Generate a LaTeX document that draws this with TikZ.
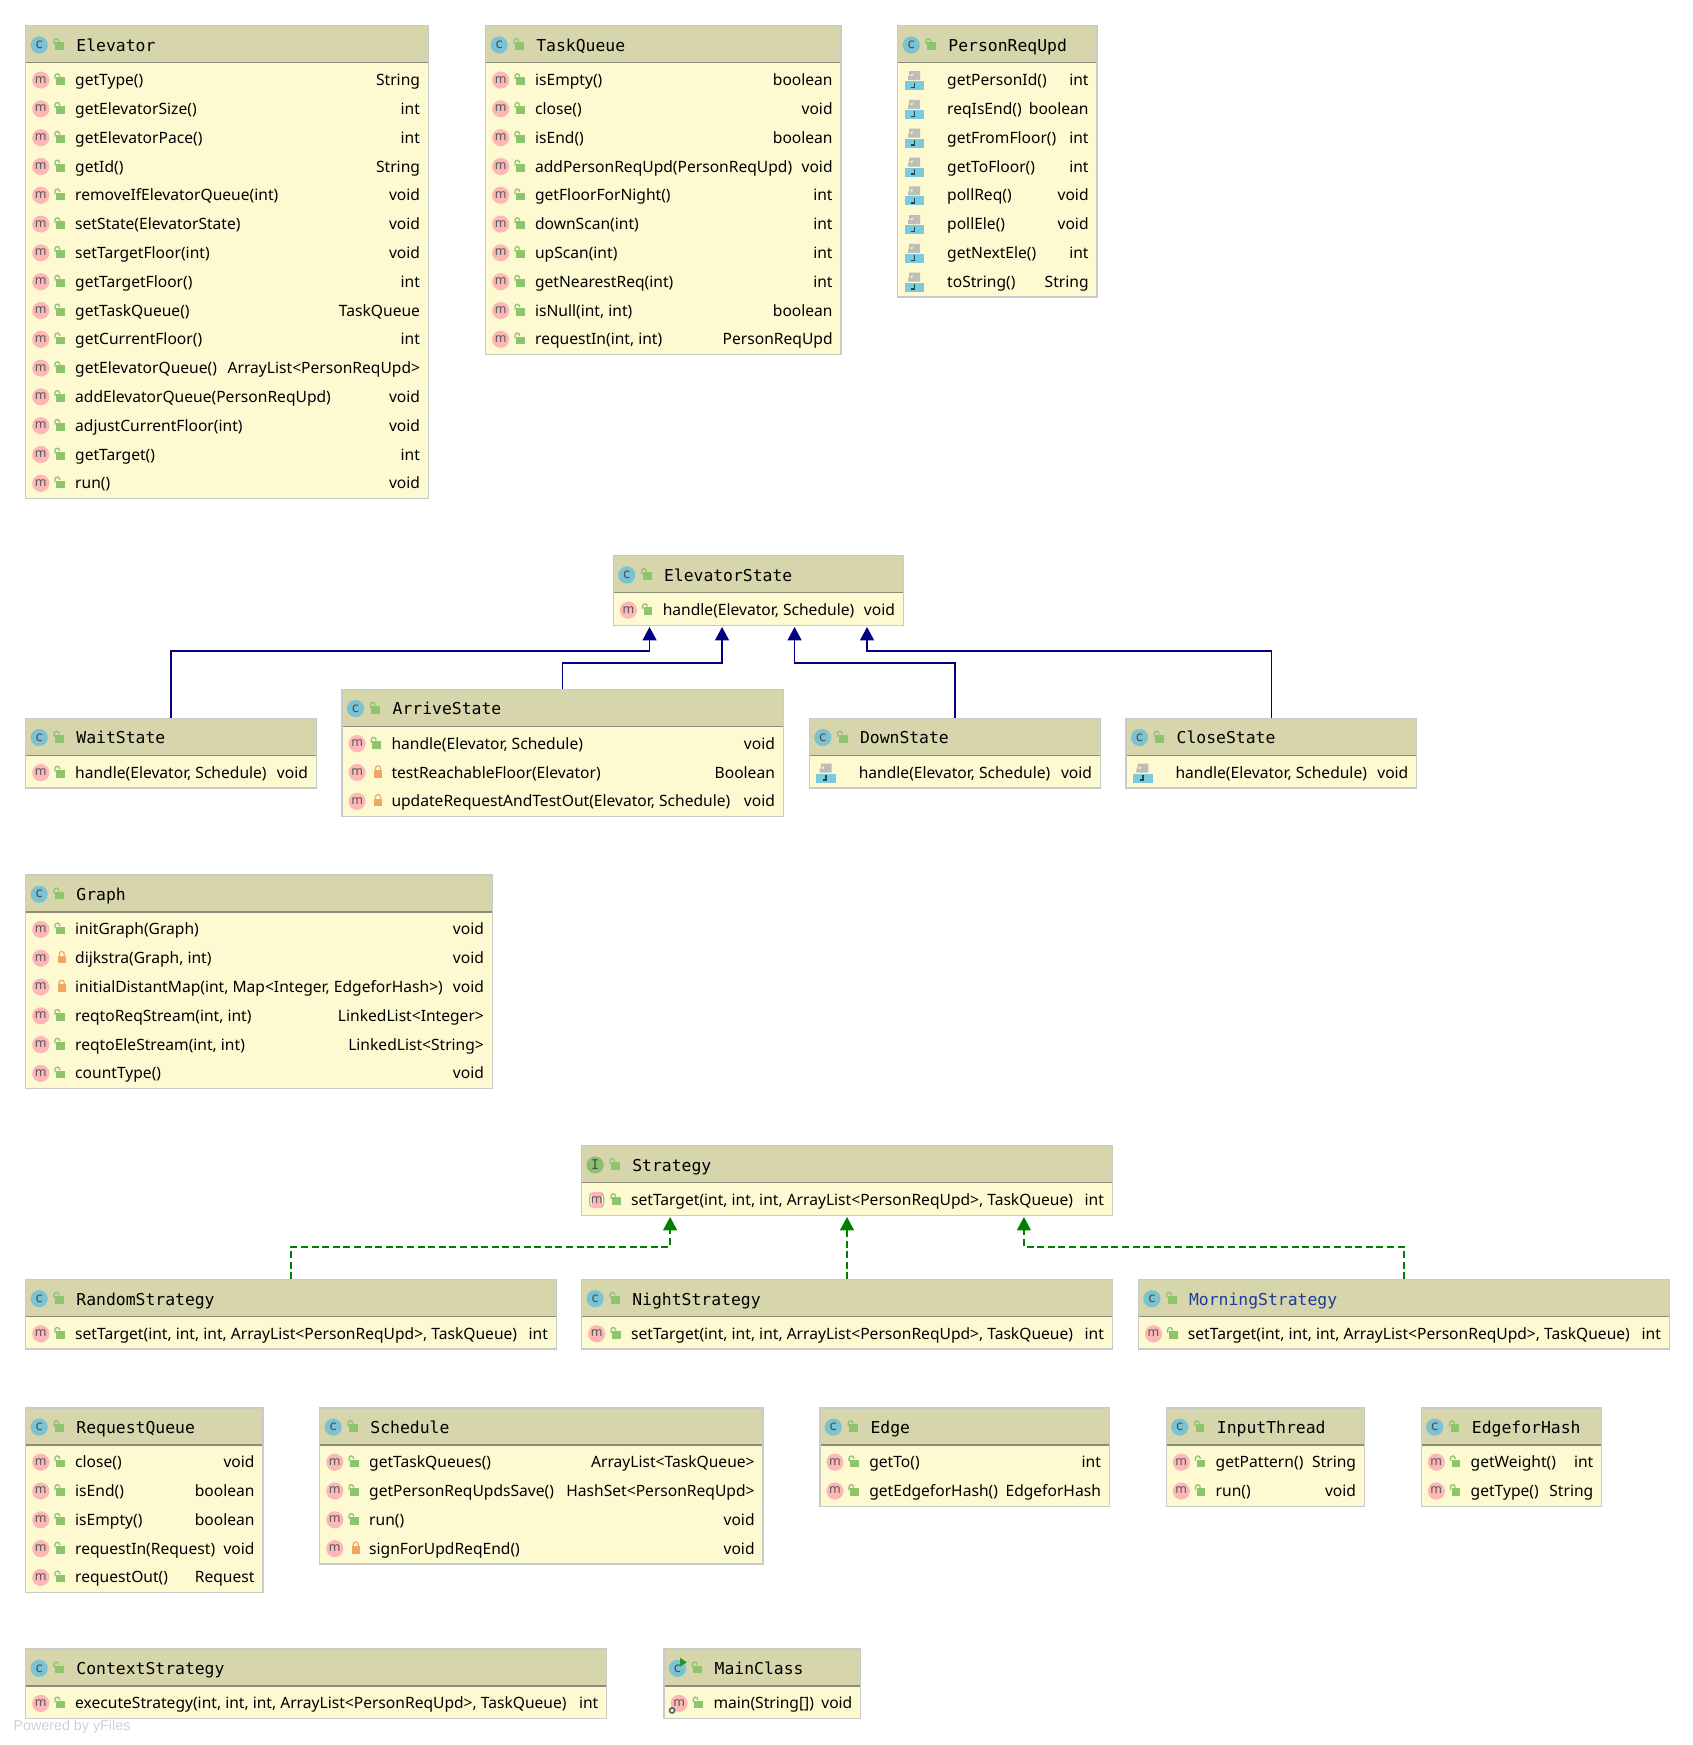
\documentclass[tikz,border=0pt]{standalone}
\usepackage{fontspec}
\setmainfont{Noto Sans}
\newfontfamily\titlefont{DejaVu Sans Mono}
\newfontfamily\yfilesfont{Liberation Sans}
\usetikzlibrary{arrows.meta,calc}
\definecolor{headfill}{HTML}{D7D5AB}
\definecolor{bodyfill}{HTML}{FDFAD1}
\definecolor{frameline}{HTML}{CBCBC6}
\definecolor{divline}{HTML}{8C8C7A}
\definecolor{ciconfill}{HTML}{7BC3D3}
\definecolor{iiconfill}{HTML}{8DBF70}
\definecolor{miconfill}{HTML}{FDB7B7}
\definecolor{lockgreen}{HTML}{8EC46C}
\definecolor{lockred}{HTML}{F2A663}
\definecolor{jblue}{HTML}{7ACBDE}
\definecolor{jgray}{HTML}{BDBEB8}
\definecolor{extline}{HTML}{000080}
\definecolor{implline}{HTML}{008000}
\definecolor{mornblue}{HTML}{1A3C9C}
\tikzset{
  classbox/.style={rectangle,anchor=north west,fill=bodyfill,inner sep=0pt,outer sep=0pt},
  boxframe/.style={draw=frameline,line width=1.4pt},
  titletext/.style={anchor=base west,inner sep=0pt,font=\titlefont\fontsize{16.4}{18}\selectfont},
  membertext/.style={anchor=base west,inner sep=0pt,font=\fontsize{15.6}{18}\selectfont},
  typetext/.style={anchor=base east,inner sep=0pt,font=\fontsize{15.6}{18}\selectfont},
  iconletter/.style={inner sep=0pt,text=black!65,font=\fontsize{12.5}{13}\selectfont},
  ciconletter/.style={inner sep=0pt,text=black!70,font=\titlefont\fontsize{13.5}{14}\selectfont},
  extarrow/.style={draw=extline,line width=1.3pt,-{Triangle[length=13.4pt,width=14pt]}},
  implarrow/.style={draw=implline,line width=1.3pt,dash pattern=on 7pt off 3.6pt,-{Triangle[length=13.4pt,width=14pt]}},
}
\newcounter{iconctr}
% ---- locks, x at left of body
\newcommand{\lockpub}[2]{%
  \fill[lockgreen] (#1,#2-2.7) rectangle ++(8.8,7.7);
  \draw[lockgreen,line width=1.3pt] (#1+3.6,#2-3.4) -- (#1+3.6,#2-4) arc[start angle=0,end angle=-180,radius=2.3] -- ++(0,3);}
\newcommand{\lockpri}[2]{%
  \fill[lockred] (#1+1.9,#2-2.7) rectangle ++(7.6,7.7);
  \draw[lockred,line width=1.2pt] (#1+3.2,#2-2.7) -- ++(0,-1.6) arc[start angle=180,end angle=360,radius=2.5] -- ++(0,1.6);}
\newcommand{\locknone}[2]{}
% ---- class icons
\newcommand{\titleiconc}[2]{%
  \fill[ciconfill] (#1,#2) circle[radius=8.6];
  \stepcounter{iconctr}\node[ciconletter] (ic\theiconctr) at (#1,#2) {c};}
\newcommand{\titleiconi}[2]{%
  \fill[iiconfill] (#1,#2) circle[radius=8.6];
  \stepcounter{iconctr}\node[ciconletter] (ic\theiconctr) at (#1,#2) {I};}
\newcommand{\titleiconr}[2]{%
  \fill[ciconfill] (#1,#2) circle[radius=8.6];
  \stepcounter{iconctr}\node[ciconletter] (ic\theiconctr) at (#1,#2) {c};
  \fill[implline!70!lockgreen] (#1+2.6,#2-10.5) -- (#1+9.4,#2-6) -- (#1+2.6,#2-1.8) -- cycle;}
% ---- member icons
\newcommand{\rowiconm}[2]{%
  \fill[miconfill] (#1,#2) circle[radius=8.6];
  \stepcounter{iconctr}\node[iconletter] (ic\theiconctr) at (#1,#2-0.5) {m};}
\newcommand{\rowicona}[2]{%
  \fill[miconfill] (#1-5,#2-8) rectangle (#1+5,#2+8);
  \draw[black!30,line width=1.2pt] (#1-5.4,#2-7) arc[start angle=210,end angle=150,radius=14];
  \draw[black!30,line width=1.2pt] (#1+5.4,#2-7) arc[start angle=-30,end angle=30,radius=14];
  \stepcounter{iconctr}\node[iconletter] (ic\theiconctr) at (#1,#2-0.5) {m};}
\newcommand{\rowiconr}[2]{%
  \fill[miconfill] (#1,#2) circle[radius=8.6];
  \stepcounter{iconctr}\node[iconletter] (ic\theiconctr) at (#1,#2-0.5) {m};
  \draw[black!45!ciconfill,line width=1.6pt] (#1-7,#2+7) circle[radius=2.6];}
\newcommand{\rowiconj}[2]{%
  \fill[jgray] (#1-3.6,#2-9) -- (#1+7.2,#2-9) -- (#1+7.2,#2) -- (#1-4.8,#2) -- (#1-4.8,#2-4) -- (#1-0.2,#2-4) -- (#1-0.2,#2-7) -- (#1-3.6,#2-3.6) -- cycle;
  \fill[jblue] (#1-8,#2+1) rectangle (#1+11.5,#2+10);
  \draw[black!65!jblue,line width=1.5pt] (#1+1.8,#2+2.5) -- (#1+1.8,#2+7.5) -- (#1-1.6,#2+7.5);}
% ---- class box
\newcommand{\ClassBox}[8]{%
  \pgfmathsetmacro{\cL}{#2}\pgfmathsetmacro{\cR}{#3}\pgfmathsetmacro{\cT}{#4}%
  \pgfmathsetmacro{\cW}{#3-#2}\pgfmathsetmacro{\cH}{40.8+28.8*#5}%
  \def\cName{#1}\def\rowi{0}%
  \node[classbox,minimum width=\cW pt,minimum height=\cH pt] (#1) at (\cL,\cT) {};
  \fill[headfill] (#1.north west) rectangle ($(#1.north east)+(0,37)$);
  \draw[divline,line width=1.4pt] ($(#1.north west)+(0,37)$) -- ($(#1.north east)+(0,37)$);
  \draw[boxframe] (#1.north west) rectangle (#1.south east);
  \csname titleicon#7\endcsname{\cL+13.5}{\cT+19.3}
  \lockpub{\cL+29.4}{\cT+19.3}
  \node[titletext,text=#8] (#1-title) at (\cL+50.5,\cT+25.6) {#6};}
\newcommand{\Row}[4]{%
  \pgfmathsetmacro{\cY}{\cT+54.4+28.8*\rowi}%
  \csname rowicon#1\endcsname{\cL+15.1}{\cY}
  \csname lock#2\endcsname{\cL+30.3}{\cY}
  \node[membertext] (\cName-m\rowi) at (\cL+49.3,\cY+5.5) {#3};
  \node[typetext] (\cName-t\rowi) at (\cR-8.2,\cY+5.5) {#4};
  \pgfmathtruncatemacro{\rowi}{\rowi+1}}
\begin{document}
\begin{tikzpicture}[x=1pt,y=-1pt]
\useasboundingbox (0,0) rectangle (1693,1745);
\fill[white] (0,0) rectangle (1693,1745);

\ClassBox{elevator}{25.7}{428.4}{25.7}{15}{Elevator}{c}{black}
\Row{m}{pub}{getType()}{String}
\Row{m}{pub}{getElevatorSize()}{int}
\Row{m}{pub}{getElevatorPace()}{int}
\Row{m}{pub}{getId()}{String}
\Row{m}{pub}{removeIfElevatorQueue(int)}{void}
\Row{m}{pub}{setState(ElevatorState)}{void}
\Row{m}{pub}{setTargetFloor(int)}{void}
\Row{m}{pub}{getTargetFloor()}{int}
\Row{m}{pub}{getTaskQueue()}{TaskQueue}
\Row{m}{pub}{getCurrentFloor()}{int}
\Row{m}{pub}{getElevatorQueue()}{ArrayList<PersonReqUpd>}
\Row{m}{pub}{addElevatorQueue(PersonReqUpd)}{void}
\Row{m}{pub}{adjustCurrentFloor(int)}{void}
\Row{m}{pub}{getTarget()}{int}
\Row{m}{pub}{run()}{void}

\ClassBox{taskqueue}{485.6}{841}{25.7}{10}{TaskQueue}{c}{black}
\Row{m}{pub}{isEmpty()}{boolean}
\Row{m}{pub}{close()}{void}
\Row{m}{pub}{isEnd()}{boolean}
\Row{m}{pub}{addPersonReqUpd(PersonReqUpd)}{void}
\Row{m}{pub}{getFloorForNight()}{int}
\Row{m}{pub}{downScan(int)}{int}
\Row{m}{pub}{upScan(int)}{int}
\Row{m}{pub}{getNearestReq(int)}{int}
\Row{m}{pub}{isNull(int, int)}{boolean}
\Row{m}{pub}{requestIn(int, int)}{PersonReqUpd}

\ClassBox{personrequpd}{897.7}{1097}{25.7}{8}{PersonReqUpd}{c}{black}
\Row{j}{none}{getPersonId()}{int}
\Row{j}{none}{reqIsEnd()}{boolean}
\Row{j}{none}{getFromFloor()}{int}
\Row{j}{none}{getToFloor()}{int}
\Row{j}{none}{pollReq()}{void}
\Row{j}{none}{pollEle()}{void}
\Row{j}{none}{getNextEle()}{int}
\Row{j}{none}{toString()}{String}

\ClassBox{elevatorstate}{613.3}{903.3}{555.7}{1}{ElevatorState}{c}{black}
\Row{m}{pub}{handle(Elevator, Schedule)}{void}

\ClassBox{waitstate}{25.7}{316.3}{718.2}{1}{WaitState}{c}{black}
\Row{m}{pub}{handle(Elevator, Schedule)}{void}

\ClassBox{arrivestate}{342}{783.3}{689.3}{3}{ArriveState}{c}{black}
\Row{m}{pub}{handle(Elevator, Schedule)}{void}
\Row{m}{pri}{testReachableFloor(Elevator)}{Boolean}
\Row{m}{pri}{updateRequestAndTestOut(Elevator, Schedule)}{void}

\ClassBox{downstate}{809.3}{1100.4}{718.2}{1}{DownState}{c}{black}
\Row{j}{none}{handle(Elevator, Schedule)}{void}

\ClassBox{closestate}{1126}{1416.7}{718.2}{1}{CloseState}{c}{black}
\Row{j}{none}{handle(Elevator, Schedule)}{void}

\ClassBox{graph}{25.7}{492.3}{875}{6}{Graph}{c}{black}
\Row{m}{pub}{initGraph(Graph)}{void}
\Row{m}{pri}{dijkstra(Graph, int)}{void}
\Row{m}{pri}{initialDistantMap(int, Map<Integer, EdgeforHash>)}{void}
\Row{m}{pub}{reqtoReqStream(int, int)}{LinkedList<Integer>}
\Row{m}{pub}{reqtoEleStream(int, int)}{LinkedList<String>}
\Row{m}{pub}{countType()}{void}

\ClassBox{strategy}{581.6}{1112.4}{1145.7}{1}{Strategy}{i}{black}
\Row{a}{pub}{setTarget(int, int, int, ArrayList<PersonReqUpd>, TaskQueue)}{int}

\ClassBox{randomstrategy}{25.7}{556.4}{1279.4}{1}{RandomStrategy}{c}{black}
\Row{m}{pub}{setTarget(int, int, int, ArrayList<PersonReqUpd>, TaskQueue)}{int}

\ClassBox{nightstrategy}{581.6}{1112.4}{1279.4}{1}{NightStrategy}{c}{black}
\Row{m}{pub}{setTarget(int, int, int, ArrayList<PersonReqUpd>, TaskQueue)}{int}

\ClassBox{morningstrategy}{1138.4}{1669.4}{1279.4}{1}{MorningStrategy}{c}{mornblue}
\Row{m}{pub}{setTarget(int, int, int, ArrayList<PersonReqUpd>, TaskQueue)}{int}

\ClassBox{requestqueue}{25.7}{262.9}{1407.8}{5}{RequestQueue}{c}{black}
\Row{m}{pub}{close()}{void}
\Row{m}{pub}{isEnd()}{boolean}
\Row{m}{pub}{isEmpty()}{boolean}
\Row{m}{pub}{requestIn(Request)}{void}
\Row{m}{pub}{requestOut()}{Request}

\ClassBox{schedule}{319.7}{763}{1407.8}{4}{Schedule}{c}{black}
\Row{m}{pub}{getTaskQueues()}{ArrayList<TaskQueue>}
\Row{m}{pub}{getPersonReqUpdsSave()}{HashSet<PersonReqUpd>}
\Row{m}{pub}{run()}{void}
\Row{m}{pri}{signForUpdReqEnd()}{void}

\ClassBox{edge}{819.8}{1109.3}{1407.8}{2}{Edge}{c}{black}
\Row{m}{pub}{getTo()}{int}
\Row{m}{pub}{getEdgeforHash()}{EdgeforHash}

\ClassBox{inputthread}{1166.2}{1364.4}{1407.8}{2}{InputThread}{c}{black}
\Row{m}{pub}{getPattern()}{String}
\Row{m}{pub}{run()}{void}

\ClassBox{edgeforhash}{1421.2}{1601.7}{1407.8}{2}{EdgeforHash}{c}{black}
\Row{m}{pub}{getWeight()}{int}
\Row{m}{pub}{getType()}{String}

\ClassBox{contextstrategy}{25.7}{606.7}{1649}{1}{ContextStrategy}{c}{black}
\Row{m}{pub}{executeStrategy(int, int, int, ArrayList<PersonReqUpd>, TaskQueue)}{int}

\ClassBox{mainclass}{664}{860.7}{1649}{1}{MainClass}{r}{black}
\Row{r}{pub}{main(String[])}{void}

\node[anchor=base west,inner sep=0pt,text=black!18,font=\yfilesfont\fontsize{14.3}{16}\selectfont] (poweredby) at (13.4,1730.5) {Powered by yFiles};

% inheritance targets
\foreach \nm/\fr in {es1/0.125,es2/0.375,es3/0.625,es4/0.875}
  \coordinate (\nm) at ($(elevatorstate.south west)!\fr!(elevatorstate.south east)+(0,1.7)$);
\coordinate (st1) at ($(strategy.south west)!0.1667!(strategy.south east)+(0,1.7)$);
\coordinate (st2) at ($(strategy.south west)!0.5!(strategy.south east)+(0,1.7)$);
\coordinate (st3) at ($(strategy.south west)!0.8333!(strategy.south east)+(0,1.7)$);

\draw[extarrow] (waitstate.north) |- ($(es1)+(0,24)$) -- (es1);
\draw[extarrow] (arrivestate.north) |- ($(es2)+(0,36)$) -- (es2);
\draw[extarrow] (downstate.north) |- ($(es3)+(0,36)$) -- (es3);
\draw[extarrow] (closestate.north) |- ($(es4)+(0,24)$) -- (es4);

\draw[implarrow] (randomstrategy.north) |- ($(st1)+(0,30)$) -- (st1);
\draw[implarrow] (nightstrategy.north) -- (st2);
\draw[implarrow] (morningstrategy.north) |- ($(st3)+(0,30)$) -- (st3);
\end{tikzpicture}
\end{document}
